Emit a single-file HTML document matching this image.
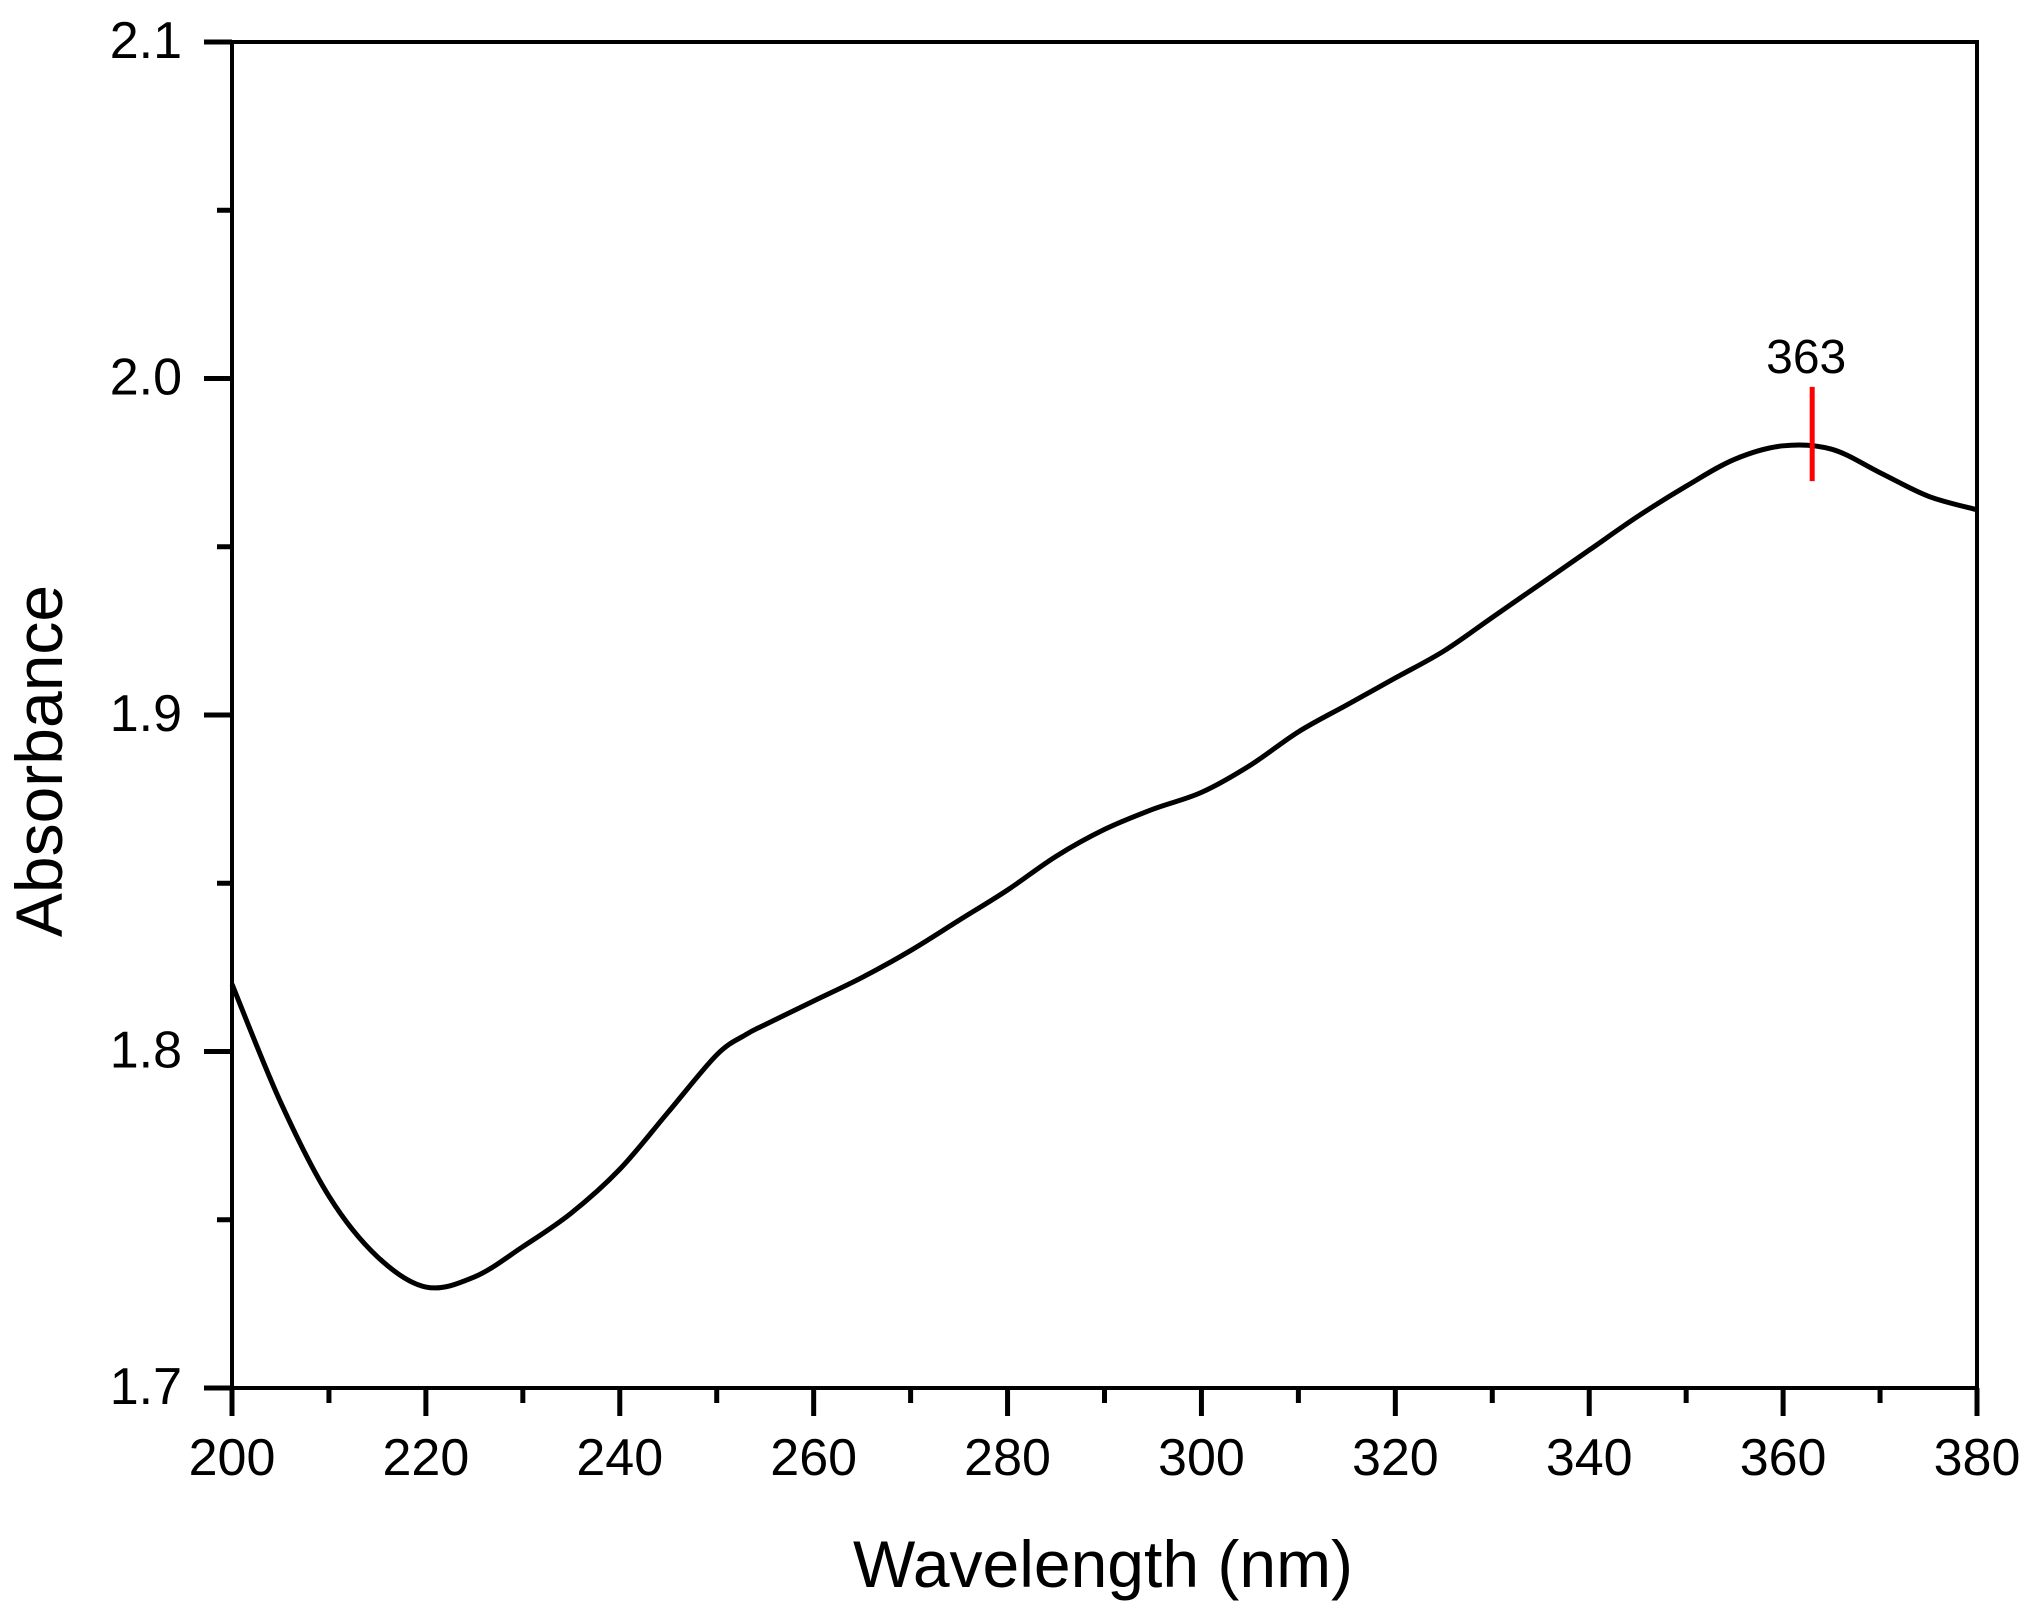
<!DOCTYPE html>
<html><head><meta charset="utf-8"><style>
html,body{margin:0;padding:0;background:#fff;}
svg{display:block;font-family:"Liberation Sans",Arial,sans-serif;}
</style></head><body>
<svg id="chart" width="2033" height="1611" viewBox="0 0 2033 1611" xmlns="http://www.w3.org/2000/svg">
<g id="axes"></g>
<g id="series"></g>
<text x="0" y="0" transform="translate(62,761) rotate(-90)" text-anchor="middle" font-size="66" fill="#000">Absorbance</text>
<text x="1103" y="1587" text-anchor="middle" font-size="66" fill="#000">Wavelength (nm)</text>
</svg>
<script>
const wavelengths=[200,205,210,215,220,225,230,235,240,245,250,253,255,260,265,270,275,280,285,290,295,300,305,310,315,320,325,330,335,340,345,350,355,360,365,370,375,380];
const absorbance=[1.820,1.785,1.757,1.739,1.730,1.733,1.742,1.752,1.765,1.782,1.799,1.805,1.808,1.815,1.822,1.830,1.839,1.848,1.858,1.866,1.872,1.877,1.885,1.895,1.903,1.911,1.919,1.929,1.939,1.949,1.959,1.968,1.976,1.980,1.979,1.972,1.965,1.961];
const xTicks=[200,220,240,260,280,300,320,340,360,380];
const yTicks=[1.7,1.8,1.9,2.0,2.1];
const yTickLabels=["1.7","1.8","1.9","2.0","2.1"];
const peakX=[363];
const peakRange=[1.9695,1.9975];
const peakLabels=["363"];

const L=232,R=1977,T=42,B=1388,X0=200,X1=380,Y0=1.7,Y1=2.1;
const sx=v=>L+(v-X0)/(X1-X0)*(R-L);
const sy=v=>B-(v-Y0)/(Y1-Y0)*(B-T);
const NS="http://www.w3.org/2000/svg";
const mk=(t,a,p)=>{const e=document.createElementNS(NS,t);for(const k in a)e.setAttribute(k,a[k]);p.appendChild(e);return e;};
const axes=document.getElementById('axes'),series=document.getElementById('series');

const frame=mk('rect',{x:L,y:T,width:R-L,height:B-T,fill:'none',stroke:'#000','stroke-width':4},axes);



xTicks.forEach((v,i)=>{
  const x=sx(v);
  const t=mk('line',{x1:x,x2:x,y1:B,y2:B+28,stroke:'#000','stroke-width':5},axes);
  
  
  const lb=mk('text',{x:x,y:B+87,'text-anchor':'middle','font-size':52,fill:'#000'},axes);
  lb.textContent=String(v);
  
  
  if(i<xTicks.length-1){
    const xm=sx(v+(xTicks[1]-xTicks[0])/2);
    const m=mk('line',{x1:xm,x2:xm,y1:B,y2:B+15,stroke:'#000','stroke-width':5},axes);
    
    
  }
});
yTicks.forEach((v,i)=>{
  const y=sy(v);
  const t=mk('line',{x1:L-28,x2:L,y1:y,y2:y,stroke:'#000','stroke-width':5},axes);
  
  
  const lb=mk('text',{x:L-50,y:y+16,'text-anchor':'end','font-size':52,fill:'#000'},axes);
  lb.textContent=yTickLabels[i];
  
  
  if(i<yTicks.length-1){
    const ym=sy(v+0.05);
    const m=mk('line',{x1:L-15,x2:L,y1:ym,y2:ym,stroke:'#000','stroke-width':5},axes);
    
    
  }
});

const pts=wavelengths.map((w,i)=>[sx(w),sy(absorbance[i])]);
let d='M'+pts[0][0]+','+pts[0][1];
for(let i=0;i<pts.length-1;i++){
  const p0=pts[Math.max(0,i-1)],p1=pts[i],p2=pts[i+1],p3=pts[Math.min(pts.length-1,i+2)];
  const c1=[p1[0]+(p2[0]-p0[0])/6,p1[1]+(p2[1]-p0[1])/6];
  const c2=[p2[0]-(p3[0]-p1[0])/6,p2[1]-(p3[1]-p1[1])/6];
  d+=' C'+c1[0]+','+c1[1]+' '+c2[0]+','+c2[1]+' '+p2[0]+','+p2[1];
}
const line=mk('path',{d:d,fill:'none',stroke:'#000','stroke-width':5,'stroke-linejoin':'round'},series);



peakX.forEach((v,i)=>{
  const x=sx(v);
  const pm=mk('line',{x1:x,x2:x,y1:sy(peakRange[0]),y2:sy(peakRange[1]),stroke:'#ff0000','stroke-width':5},series);
  
  
  const pl=mk('text',{x:x-6,y:sy(peakRange[1])-14,'text-anchor':'middle','font-size':48,fill:'#000'},series);
  pl.textContent=peakLabels[i];
  
  
});
</script>
</body></html>
